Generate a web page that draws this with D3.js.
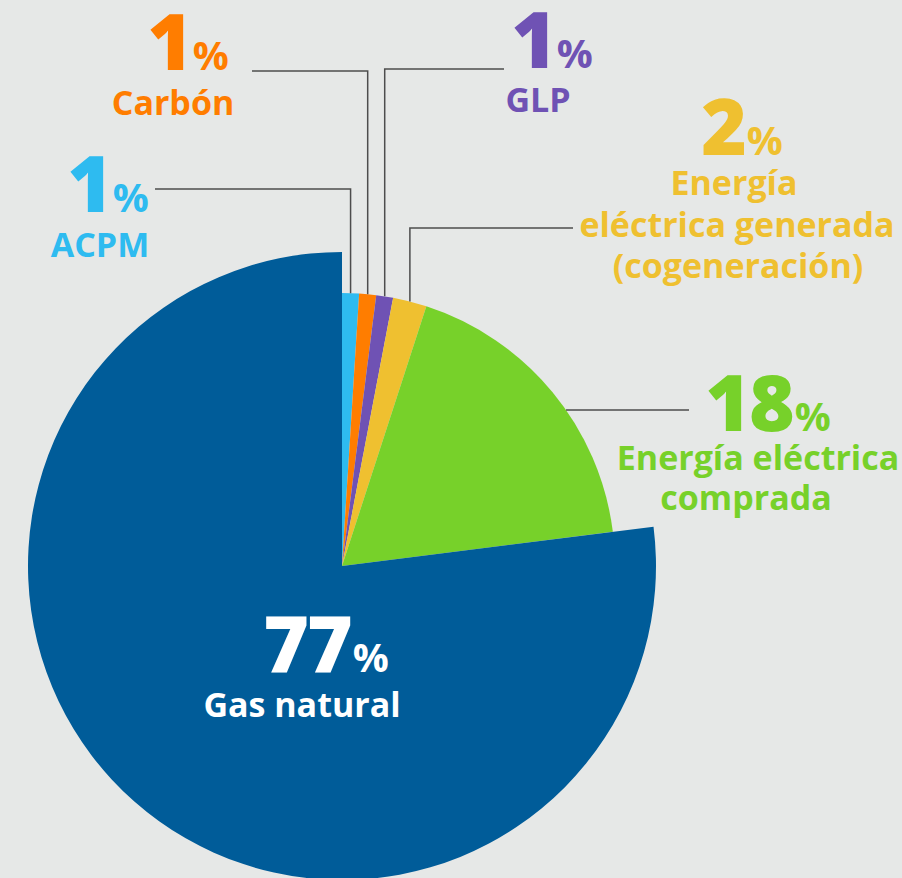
<!DOCTYPE html>
<html>
<head>
<meta charset="utf-8">
<script src="https://cdn.jsdelivr.net/npm/d3@7"></script>
<style>
  html, body { margin: 0; padding: 0; background: #e6e8e7; }
  svg { display: block; }
  text { font-family: "Open Sans", "Noto Sans", sans-serif; font-weight: 700; }
</style>
</head>
<body>
<svg id="chart"></svg>
<script>
const w = 902, h = 878;

// data
const categories = ["ACPM", "Carbón", "GLP", "Energía eléctrica generada (cogeneración)", "Energía eléctrica comprada", "Gas natural"];
const values = [1, 1, 1, 2, 18, 77];
const colors = ["#2ebbf0", "#ff7d00", "#6f52b4", "#efc030", "#77d12a", "#005c99"];
const labelLines = [["ACPM"], ["Carbón"], ["GLP"], ["Energía", "eléctrica generada", "(cogeneración)"], ["Energía eléctrica", "comprada"], ["Gas natural"]];

// layout of labels (centres and baselines)
const numX = [108, 188, 552, 742, 768, 326];
const numY = [212, 70, 68, 155, 431, 672];
const txtX = [[100], [173], [538], [734, 737, 738], [758, 746], [302]];
const txtY = [[257], [115], [112], [195, 237, 278], [470, 510], [717]];
const txtSize = 34;
const leaderY = [189, 71, 69, 228, 410, null];
const leaderEnd = [155, 252, 504, 573, 689, null];

const cx = 342, cy = 566;
const rSmall = 273, rBig = 314;

const svg = d3.select("#chart").attr("width", w).attr("height", h);
svg.append("rect").attr("width", w).attr("height", h).attr("fill", "#e6e8e7");

const pie = d3.pie().sort(null).value(d => d);
const arcs = pie(values);
const radius = i => i === values.length - 1 ? rBig : rSmall;

const g = svg.append("g").attr("transform", `translate(${cx},${cy})`);

g.selectAll("path")
  .data(arcs)
  .join("path")
    .attr("d", (d, i) => d3.arc().innerRadius(0).outerRadius(radius(i))(d))
    .attr("fill", (d, i) => colors[i]);

// leader lines
const lines = svg.append("g")
  .attr("fill", "none")
  .attr("stroke", "#4d4d4d")
  .attr("stroke-width", 1.5);

arcs.forEach((d, i) => {
  if (leaderY[i] == null) return;
  const mid = (d.startAngle + d.endAngle) / 2;
  const r = radius(i);
  let pts;
  if (i < 4) {
    const x = cx + r * Math.sin(mid);
    const yArc = cy - Math.sqrt(r * r - (x - cx) * (x - cx));
    pts = [[x, yArc], [x, leaderY[i]], [leaderEnd[i], leaderY[i]]];
  } else {
    const dy = cy - leaderY[i];
    const xArc = cx + Math.sqrt(r * r - dy * dy);
    pts = [[xArc, leaderY[i]], [leaderEnd[i], leaderY[i]]];
  }
  lines.append("path").attr("d", d3.line()(pts));
});

// labels
const labels = svg.append("g");
values.forEach((v, i) => {
  const col = i === values.length - 1 ? "#ffffff" : colors[i];
  const t = labels.append("text")
    .attr("x", numX[i]).attr("y", numY[i])
    .attr("text-anchor", "middle")
    .attr("fill", col);
  t.append("tspan").attr("font-size", 78).attr("font-weight", 800).attr("letter-spacing", -2).text(v);
  t.append("tspan").attr("font-size", 40).attr("font-weight", 700).attr("dx", 2).text("%");

  labelLines[i].forEach((s, j) => {
    labels.append("text")
      .attr("x", txtX[i][j]).attr("y", txtY[i][j])
      .attr("text-anchor", "middle")
      .attr("font-size", txtSize)
      .attr("fill", col)
      .text(s);
  });
});
</script>
</body>
</html>
